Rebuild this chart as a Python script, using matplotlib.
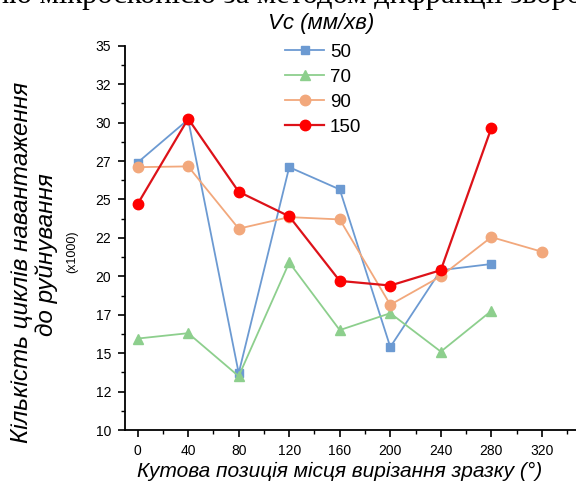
import numpy as np
import matplotlib
matplotlib.use("Agg")
import matplotlib.pyplot as plt
from matplotlib.ticker import FixedLocator, MultipleLocator, FuncFormatter

# кутова позиція (°)
angles = [0, 40, 80, 120, 160, 200, 240, 280, 320]

# кількість циклів (x1000) для різних Vc
vc_50 = [27.4, 30.2, 13.7, 27.1, 25.65, 15.4, 20.4, 20.8]
vc_70 = [15.95, 16.3, 13.5, 20.9, 16.5, 17.6, 15.1, 17.75]
vc_90 = [27.1, 27.15, 23.1, 23.85, 23.7, 18.15, 20.0, 22.55, 21.6]
vc_150 = [24.7, 30.25, 25.5, 23.9, 19.7, 19.4, 20.4, 29.65]

labels = ["50", "70", "90", "150"]
yticks = [10, 12.5, 15, 17.5, 20, 22.5, 25, 27.5, 30, 32.5, 35]
xticks = [0, 40, 80, 120, 160, 200, 240, 280, 320]

tech = {"family": ["Liberation Sans", "DejaVu Sans"], "style": "italic"}

fig = plt.figure(figsize=(5.76, 4.9), dpi=100)
ax = fig.add_axes([0.217, 0.1224, 0.783, 0.7843])

ax.plot(angles[:len(vc_50)], vc_50, color="#6c9ad2", lw=1.3, marker="s", ms=6,
        label=labels[0])
ax.plot(angles[:len(vc_70)], vc_70, color="#8dcf8d", lw=1.3, marker="^", ms=7,
        label=labels[1])
ax.plot(angles[:len(vc_90)], vc_90, color="#f2a87c", lw=1.3, marker="o", ms=7.5,
        label=labels[2])
ax.plot(angles[:len(vc_150)], vc_150, color="#dd1219", lw=1.6, marker="o", ms=7.5,
        mfc="#ff0000", mec="#ff0000", label=labels[3])

ax.set_xlim(-10, 347)
ax.set_ylim(10, 35)
ax.yaxis.set_major_locator(FixedLocator(yticks))
ax.yaxis.set_major_formatter(FuncFormatter(lambda v, p: f"{int(v)}"))
ax.yaxis.set_minor_locator(MultipleLocator(1.25))
ax.xaxis.set_major_locator(FixedLocator(xticks))
ax.xaxis.set_minor_locator(MultipleLocator(20))
for s in ["top", "right"]:
    ax.spines[s].set_visible(False)
for s in ["left", "bottom"]:
    ax.spines[s].set_linewidth(1.3)
ax.tick_params(which="major", direction="out", length=5, width=1.2,
               labelsize=10, pad=5)
ax.tick_params(which="minor", direction="out", length=3, width=1.0)
for t in ax.get_xticklabels() + ax.get_yticklabels():
    t.set_family("Liberation Sans")

leg = ax.legend(loc="upper left", bbox_to_anchor=(0.338, 1.025), frameon=False,
                handlelength=2.1, labelspacing=0.42,
                handletextpad=0.3, borderaxespad=0,
                prop={"family": "Liberation Sans", "size": 13.5})
fig.text(0.557, 0.953, "Vc (мм/хв)", ha="center", va="center", fontsize=16, **tech)

# підписи осей
fig.text(0.59, 0.038, "Кутова позиція місця вирізання зразку (°)", ha="center",
         va="center", fontsize=15, **tech)
fig.text(0.038, 0.465, "Кількість циклів навантаження", rotation=90, ha="center",
         va="center", fontsize=17.5, **tech)
fig.text(0.081, 0.48, "до руйнування", rotation=90, ha="center", va="center",
         fontsize=17.5, **tech)
fig.text(0.125, 0.486, "(x1000)", rotation=90, ha="center", va="center",
         fontsize=9, family="Liberation Sans")

# обрізаний рядок тексту документа зверху
fig.text(0.5, 0.993, "ерхню мікроскопією за методом дифракції зворотно",
         ha="center", va="baseline", fontsize=22, family="Liberation Serif")

fig.savefig("out.png", dpi=100)
